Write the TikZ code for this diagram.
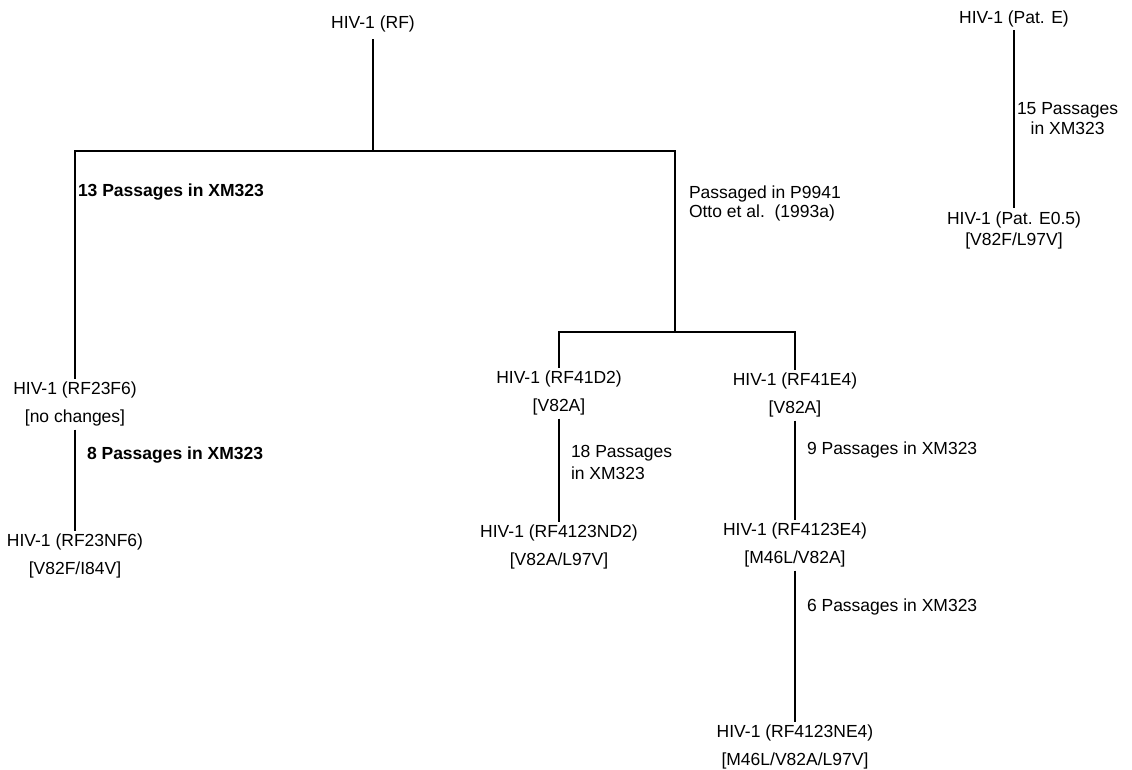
\documentclass[tikz,border=0pt]{standalone}
\usepackage{fontspec}
\setmainfont{Liberation Sans}
\usetikzlibrary{positioning}

\begin{document}
\begin{tikzpicture}[x=1pt, y=-1pt, line width=2pt, node distance=5pt, every node/.style={font=\fontsize{17.5}{20}\selectfont}]
\tikzstyle{strain}=[inner sep=0pt, outer sep=3pt, text height=13pt, text depth=4pt]
\tikzstyle{passage}=[inner sep=0pt, anchor=west]
\tikzstyle{heavy}=[font=\fontsize{17.5}{20}\selectfont\bfseries]
\useasboundingbox (0,0) rectangle (1132,770);
% strains
\node[strain, outer sep=7pt] (rf) at (373,24) {HIV-1 (RF)};
\node[strain] (f6) at (75,390) {HIV-1 (RF23F6)};
\node[strain, below=of f6] (f6m) {[no changes]};
\node[strain] (nf6) at (75,542) {HIV-1 (RF23NF6)};
\node[strain, below=of nf6] (nf6m) {[V82F/I84V]};
\node[strain] (d2) at (559,379) {HIV-1 (RF41D2)};
\node[strain, below=of d2] (d2m) {[V82A]};
\node[strain] (nd2) at (559,533) {HIV-1 (RF4123ND2)};
\node[strain, below=of nd2] (nd2m) {[V82A/L97V]};
\node[strain] (e4) at (795,381) {HIV-1 (RF41E4)};
\node[strain, below=of e4] (e4m) {[V82A]};
\node[strain] (e4b) at (795,531) {HIV-1 (RF4123E4)};
\node[strain, below=of e4b] (e4bm) {[M46L/V82A]};
\node[strain] (ne4) at (795,733) {HIV-1 (RF4123NE4)};
\node[strain, below=of ne4] (ne4m) {[M46L/V82A/L97V]};
\node[strain] (pate) at (1014,19) {HIV-1 (Pat. E)};
\node[strain] (pate5) at (1014,220) {HIV-1 (Pat. E0.5)};
\node[strain, below=-2pt of pate5] (pate5m) {[V82F/L97V]};
% passage labels
\node[passage, heavy] (p13) at (77,192) {13 Passages in XM323};
\node[passage, heavy] (p8) at (86,455) {8 Passages in XM323};
\node[passage, align=left] (p9941) at (688,203) {Passaged in P9941\\[-1pt]Otto et al.~~(1993a)};
\node[passage, align=left] (p18) at (570,462) {18 Passages\\[2pt]in XM323};
\node[passage] (p9) at (806,450) {9 Passages in XM323};
\node[passage] (p6) at (806,607) {6 Passages in XM323};
\node[passage, align=center] (p15) at (1016,119) {15 Passages\\in XM323};
% junctions
\coordinate (top) at (373,151);
\coordinate (mid) at (675,332);
\draw (rf) -- (top);
\draw (f6) |- (top) -| (mid);
\draw (mid) -| (d2);
\draw (mid) -| (e4);
\draw (f6m) -- (nf6);
\draw (d2m) -- (nd2);
\draw (e4m) -- (e4b);
\draw (e4bm) -- (ne4);
\draw (pate) -- (pate5);
\end{tikzpicture}
\end{document}
